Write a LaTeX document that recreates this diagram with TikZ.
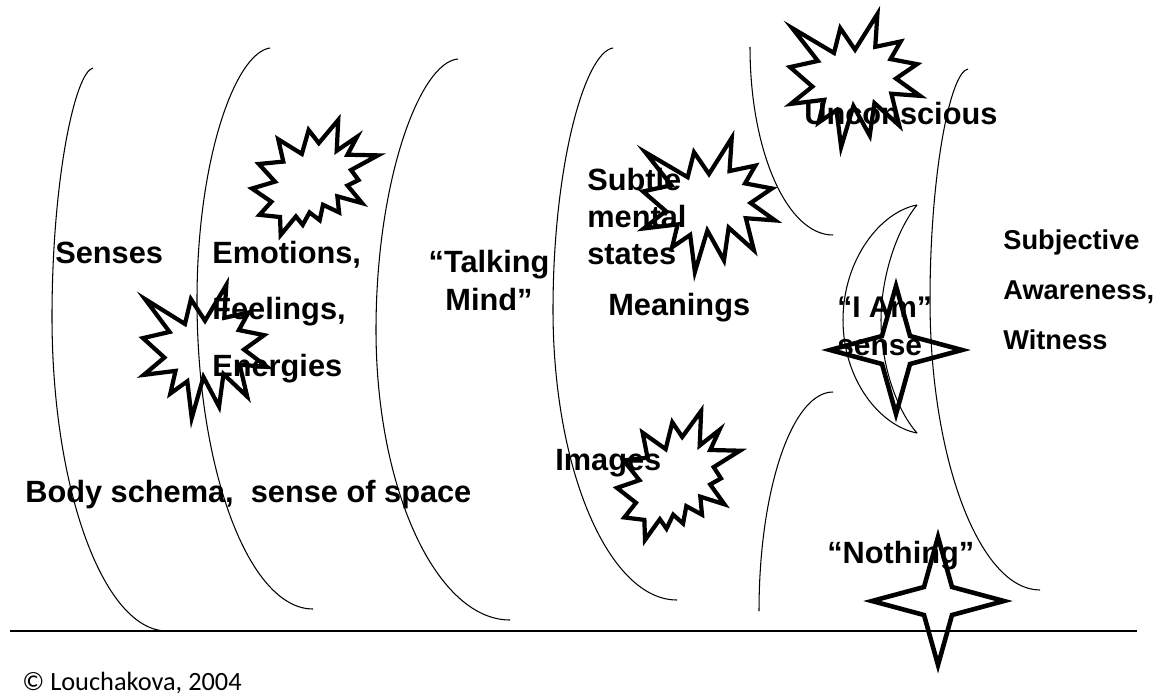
\documentclass[tikz,border=0pt]{standalone}
\usepackage{fontspec}
\setmainfont{Liberation Sans}
\newfontfamily\notefont{Carlito}
\tikzset{
  arcline/.style={line width=0.6pt},
  seal/.style={line width=2.4pt, line join=miter, miter limit=20},
  spark/.style={line width=2.6pt, line join=miter, miter limit=20},
  lbl/.style={font=\bfseries\fontsize{17.5}{21}\selectfont, inner sep=0pt, anchor=base west, align=left},
  note/.style={font=\notefont\fontsize{15}{18}\selectfont, inner sep=0pt, anchor=base west},
  % explosion shapes, drawn in a 216 x 216 box
  pics/seal one/.style={code={
    \draw[seal] (108,58) -- (145.2,0) -- (141.6,53.3) -- (183.8,44.6) -- (167,73.2) -- (211,81.4)
      -- (176.1,104.8) -- (216,132.9) -- (168.4,129.4) -- (181.5,181) -- (140.2,144.6) -- (132.5,197.4)
      -- (105.3,149.4) -- (84.9,216) -- (77.2,156.3) -- (47.6,176.2) -- (56.7,139.4) -- (1.4,145.9)
      -- (37.2,117.8) -- (0,86.2) -- (46.3,76.2) -- (3.7,23) -- (73.1,63.2) -- (83.5,23) -- cycle;}},
  pics/seal two/.style={code={
    \draw[seal] (114.6,43.4) -- (147.9,0) -- (145.3,57.8) -- (180.1,31.7) -- (163.8,65.3) -- (216,66.5)
      -- (169.9,94) -- (182.7,112.9) -- (163.8,123.1) -- (188.8,156.3) -- (146.4,143.5) -- (149.4,173.7)
      -- (121.8,159.4) -- (116.1,188.4) -- (98.7,173.7) -- (87,197.1) -- (75.3,181.3) -- (49.2,216)
      -- (48.1,182.4) -- (12.9,178.3) -- (33.3,153.7) -- (0,128.8) -- (39.4,115.9) -- (11.7,82.7)
      -- (53.7,78.2) -- (45,36.3) -- (85.5,63.8) -- (97.2,18.9) -- cycle;}},
  pics/four point/.style={code={
    \draw[spark] (0,-64) -- (14,-14) -- (66,0) -- (14,14) -- (0,64) -- (-14,14) -- (-66,0) -- (-14,-14) -- cycle;}},
}

\begin{document}
\begin{tikzpicture}[x=0.02cm, y=-0.02cm]
  \useasboundingbox (0,0) rectangle (1165,699);

  % the layers
  \draw[arcline] (93,68) .. controls (75,72) and (52,180) .. (52,317) .. controls (52,490) and (104,631) .. (167,631);
  \draw[arcline] (270,48) .. controls (235,53) and (197,160) .. (197,300) .. controls (197,470) and (249,609) .. (313,609);
  \draw[arcline] (458,59) .. controls (420,62) and (376,180) .. (376,330) .. controls (376,490) and (437,620) .. (510,620);
  \draw[arcline] (613,48) .. controls (585,52) and (553,165) .. (553,310) .. controls (553,470) and (609,600) .. (677,600);
  \draw[arcline] (750,47) .. controls (750,151) and (787,235) .. (833,235);
  \draw[arcline] (833,392) .. controls (792,392) and (759,490) .. (759,611);
  \draw[arcline] (968,69) .. controls (950,72) and (930,175) .. (930,300) .. controls (930,460) and (980,590) .. (1040,590);
  % crescent
  \draw[arcline] (917,205) .. controls (880,212) and (843,260) .. (843,320) .. controls (843,380) and (880,426) .. (917,433);
  \draw[arcline] (917,205) .. controls (895,232) and (881,280) .. (881,320) .. controls (881,362) and (895,408) .. (917,433);
  % ground
  \draw[line width=0.7pt] (10,631) -- (1137,631);

  % multi-line nodes sit on the baseline of their last line
  \node[lbl] (senses) at (55,263) {Senses};
  \node[lbl, font=\bfseries\fontsize{17.5}{32}\selectfont] (emotions) at (212,376) {Emotions,\\Feelings,\\Energies};
  \node[lbl, anchor=base, align=center, font=\bfseries\fontsize{17.5}{21.3}\selectfont] (talking) at (489,310) {“Talking\\Mind”};
  \node[lbl, font=\bfseries\fontsize{17.5}{20.8}\selectfont] (subtle) at (587,264) {Subtle\\mental\\states};
  \node[lbl] (meanings) at (608,315) {Meanings};
  \node[lbl] (images) at (555,470) {Images};
  \node[lbl] (body) at (25,502) {Body schema,\ \ sense of space};
  \node[lbl] (unconscious) at (804,125) {Unconscious};
  \node[lbl, font=\bfseries\fontsize{17}{21.6}\selectfont] (iam) at (837,355) {“I Am”\\sense};
  \node[lbl, font=\bfseries\fontsize{15.5}{28.2}\selectfont] (witness) at (1003,349) {Subjective\\Awareness,\\Witness};
  \node[lbl] (nothing) at (827,563) {“Nothing”};
  \node[note] (copy) at (22,690) {© Louchakova, 2004};

  % bursts and stars
  \pic[xscale=0.583, yscale=0.532] at (252,120) {seal two};
  \pic[xscale=0.574, yscale=0.616] at (143,285) {seal one};
  \pic[xscale=0.611, yscale=0.620] at (643,138) {seal one};
  \pic[xscale=0.569, yscale=0.597] at (617,411) {seal two};
  \pic[xscale=0.602, yscale=0.616] at (790,14) {seal one};
  \pic at (896,350) {four point};
  \pic at (938,601) {four point};
\end{tikzpicture}
\end{document}
